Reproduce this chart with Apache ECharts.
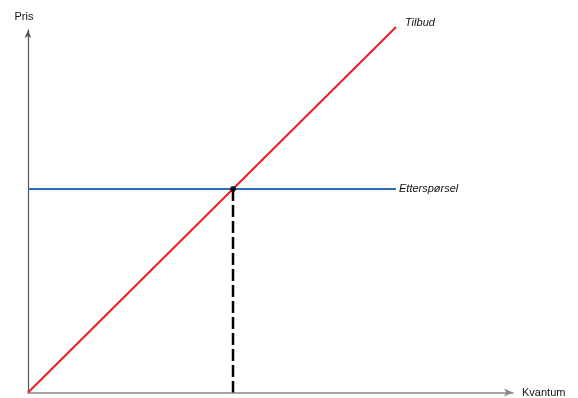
<!DOCTYPE html>
<html>
<head>
<meta charset="utf-8">
<script src="https://cdn.jsdelivr.net/npm/echarts@6/dist/echarts.min.js"></script>
<style>
  html, body { margin: 0; padding: 0; background: #fff; }
  #chart { width: 578px; height: 398px; }
</style>
</head>
<body>
<div id="chart"></div>
<script>
// verdier lest av bildet (enheter ~ piksler fra origo)
const tilbudX = [0, 368]
const tilbudY = [0, 368]
const ettersporselX = [0, 368]
const ettersporselY = [205, 205]
const likevektX = [205]
const likevektY = [205]
const aksenavn = ['Kvantum', 'Pris']
const serienavn = ['Tilbud', 'Etterspørsel']

const font = 'Liberation Sans'

const chart = echarts.init(document.getElementById('chart'))

const toPoints = (xs, ys) => xs.map((x, i) => [x, ys[i]])

// navn ved enden av linjen
const endLabel = (distance, offset) => ({
  show: true,
  formatter: '{a}',
  distance: distance,
  offset: offset,
  fontFamily: font,
  fontSize: 11,
  fontStyle: 'italic',
  color: '#111',
})

const option = {
  animation: false,
  grid: { left: 28, right: 65, top: 30, bottom: 3 },
  xAxis: {
    type: 'value',
    min: 0,
    max: 485,
    name: aksenavn[0],
    nameLocation: 'end',
    nameGap: 9,
    nameTextStyle: { fontFamily: font, fontSize: 11, color: '#111' },
    axisLine: {
      show: true,
      symbol: ['none', 'arrow'],
      symbolSize: [6, 9],
      lineStyle: { color: '#888', width: 1.5 },
    },
    axisTick: { show: false },
    axisLabel: { show: false },
    splitLine: { show: false },
  },
  yAxis: {
    type: 'value',
    min: 0,
    max: 365,
    name: aksenavn[1],
    nameLocation: 'end',
    nameGap: 8,
    nameTextStyle: { fontFamily: font, fontSize: 11, color: '#111', padding: [0, 8, 0, 0] },
    axisLine: {
      show: true,
      symbol: ['none', 'arrow'],
      symbolSize: [5, 8],
      lineStyle: { color: '#555', width: 1.2 },
    },
    axisTick: { show: false },
    axisLabel: { show: false },
    splitLine: { show: false },
  },
  series: [
    {
      name: serienavn[0],
      type: 'line',
      clip: false,
      symbol: 'none',
      data: toPoints(tilbudX, tilbudY),
      lineStyle: { color: '#ee1c25', width: 2 },
      endLabel: endLabel(9, [0, -4]),
    },
    {
      name: serienavn[1],
      type: 'line',
      clip: false,
      symbol: 'none',
      data: toPoints(ettersporselX, ettersporselY),
      lineStyle: { color: '#2e6db4', width: 2 },
      endLabel: endLabel(3, [0, 0]),
    },
    {
      name: 'likevekt',
      type: 'line',
      symbol: 'none',
      data: [[likevektX[0], likevektY[0]], [likevektX[0], 0]],
      lineStyle: { color: '#000', width: 2.5, type: [12, 4] },
      z: 3,
    },
    {
      name: 'punkt',
      type: 'scatter',
      symbolSize: 6,
      data: toPoints(likevektX, likevektY),
      itemStyle: { color: '#000' },
      z: 4,
    },
  ],
}

chart.setOption(option)
</script>
</body>
</html>
